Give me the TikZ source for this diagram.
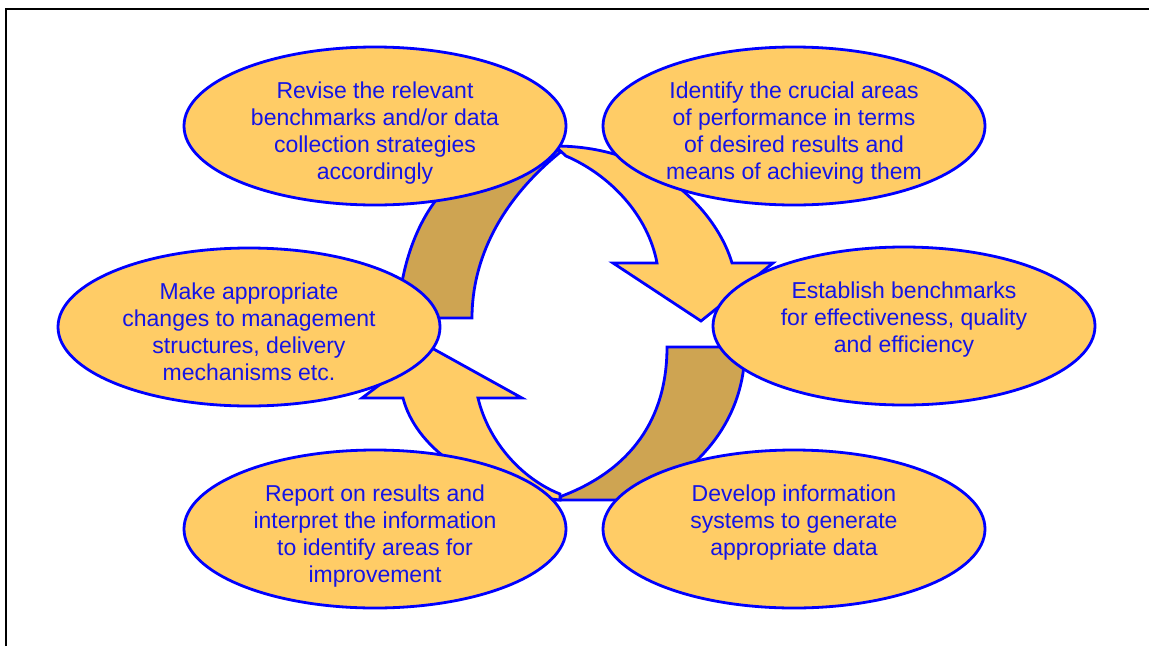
\documentclass[tikz,border=0pt]{standalone}
\usepackage{fontspec}
\setmainfont{Liberation Sans}
\usetikzlibrary{shapes.geometric}
\definecolor{bubblefill}{RGB}{255,204,102}
\definecolor{backfill}{RGB}{206,164,82}
\definecolor{edgeblue}{RGB}{0,0,255}
\definecolor{textblue}{RGB}{20,20,230}

\begin{document}
\begin{tikzpicture}[x=1pt,y=-1pt,
	bubble/.style={ellipse,draw=edgeblue,line width=2.8pt,fill=bubblefill,minimum width=382pt,minimum height=158pt,inner sep=0pt},
	caption/.style={anchor=north,align=center,text=textblue,inner sep=0pt,font=\fontsize{23}{27}\selectfont},
	front/.style={draw=edgeblue,line width=2.8pt,fill=bubblefill,line join=miter},
	back/.style={draw=edgeblue,line width=2.8pt,fill=backfill}]
	\useasboundingbox (0,0) rectangle (1149,646);
	\draw[line width=2pt,line join=miter] (6,646) -- (6,9) -- (1149,9);
	
	% twisted strips of the cycle
	\draw[back] (472,318) -- (398,318) .. controls (400,270) and (415,225) .. (440,195) .. controls (470,170) and (520,152) .. (563,150) .. controls (500,200) and (472,260) .. (472,318) -- cycle;
	\draw[front] (555,146) .. controls (660,146) and (718,215) .. (732,263) -- (773,263) -- (701,321) -- (613,263) -- (657,263) .. controls (648,215) and (610,175) .. (566,156) -- cycle;
	\draw[back] (562,496) .. controls (630,470) and (667,420) .. (667,347) -- (745,347) .. controls (745,420) and (700,470) .. (640,500) -- (558,500) -- cycle;
	\draw[front] (560,500) .. controls (470,490) and (415,445) .. (403,398) -- (362,398) -- (430,347) -- (522,398) -- (478,398) .. controls (488,440) and (520,478) .. (560,494) -- cycle;
	
	\foreach \name/\x/\y in {revise/375/126,identify/794/126,changes/249/327,establish/904/326,report/375/529,develop/794/529}
	\node[bubble] (\name) at (\x,\y) {};
	
	\node[caption] (reviseText) at (375,82) {Revise the relevant\\benchmarks and/or data\\collection strategies\\accordingly};
	\node[caption] (identifyText) at (794,82) {Identify the crucial areas\\of performance in terms\\of desired results and\\means of achieving them};
	\node[caption] (changesText) at (249,283) {Make appropriate\\changes to management\\structures, delivery\\mechanisms etc.};
	\node[caption] (establishText) at (904,282) {Establish benchmarks\\for effectiveness, quality\\and efficiency};
	\node[caption] (reportText) at (375,485) {Report on results and\\interpret the information\\to identify areas for\\improvement};
	\node[caption] (developText) at (794,485) {Develop information\\systems to generate\\appropriate data};
	
\end{tikzpicture}
\end{document}
